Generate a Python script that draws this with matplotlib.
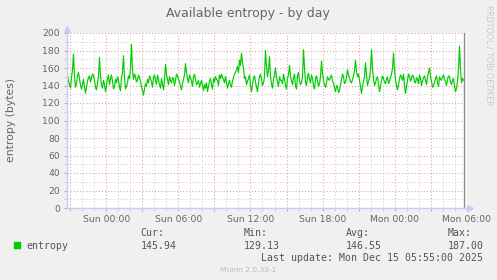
#!/usr/bin/env python3
"""
Munin style 'Available entropy - by day' graph
"""

import numpy as np
import matplotlib
matplotlib.use('Agg')
import matplotlib.pyplot as plt
from matplotlib.patches import Rectangle

# samples every 5 minutes, hours relative to Sun 00:00
start_hour = -3.25
step_hours = 1 / 12

entropy = [
    152, 145, 141, 137, 149, 158, 176, 150, 138, 142, 151, 155, 148, 140, 136, 141, 147, 139, 131, 138,
    145, 149, 151, 144, 149, 153, 152, 146, 138, 135, 143, 150, 172, 152, 140, 137, 146, 141, 133, 140,
    148, 152, 141, 147, 152, 145, 136, 139, 147, 143, 150, 146, 138, 134, 149, 155, 174, 150, 136, 139,
    143, 151, 148, 160, 187, 158, 147, 153, 150, 144, 146, 152, 149, 145, 138, 134, 129.13, 136, 142, 139,
    147, 143, 151, 148, 144, 138, 149, 152, 146, 141, 152, 147, 141, 137, 148, 142, 135, 146, 164, 153,
    147, 141, 150, 146, 143, 149, 148, 140, 146, 153, 151, 147, 144, 139, 135, 142, 147, 152, 165, 155,
    148, 143, 152, 149, 145, 139, 150, 153, 147, 141, 143, 146, 138, 142, 146, 140, 134, 141, 137, 143,
    133, 139, 145, 148, 140, 136, 148, 144, 150, 147, 146, 140, 152, 148, 153, 149, 147, 143, 150, 144,
    137, 142, 146, 141, 138, 145, 149, 153, 155, 158, 162, 155, 169, 163, 177, 166, 160, 148, 150, 141,
    145, 148, 152, 140, 133, 141, 148, 151, 144, 138, 133, 144, 150, 153, 147, 140, 143, 150, 180, 162,
    150, 158, 173, 150, 142, 137, 148, 152, 160, 149, 144, 139, 150, 146, 146, 142, 153, 147, 140, 136,
    148, 152, 163, 151, 145, 141, 149, 153, 139, 136, 151, 155, 146, 141, 143, 150, 181, 160, 144, 140,
    150, 154, 147, 143, 152, 148, 139, 136, 148, 151, 145, 139, 142, 150, 168, 154, 146, 141, 138, 143,
    150, 147, 146, 150, 152, 145, 143, 137, 133, 140, 138, 132, 134, 141, 147, 153, 150, 142, 144, 149,
    158, 152, 149, 144, 143, 147, 151, 157, 169, 156, 150, 153, 146, 139, 131, 138, 145, 150, 166, 152,
    140, 145, 149, 158, 181, 160, 147, 140, 143, 148, 150, 141, 133, 139, 146, 151, 148, 144, 142, 147,
    150, 142, 145, 149, 153, 160, 177, 158, 146, 140, 135, 141, 147, 152, 150, 146, 153, 140, 131, 139,
    146, 153, 151, 145, 148, 152, 150, 144, 143, 149, 147, 142, 152, 148, 140, 145, 149, 151, 146, 141,
    150, 155, 160, 150, 145, 138, 139, 144, 148, 151, 143, 139, 150, 147, 146, 150, 152, 147, 144, 140,
    147, 151, 150, 144, 141, 146, 148, 139, 133, 137, 145, 160, 185, 158, 143, 148, 145.94,
]

label_hours = [0, 6, 12, 18, 24, 30]
label_names = ['Sun 00:00', 'Sun 06:00', 'Sun 12:00', 'Sun 18:00',
               'Mon 00:00', 'Mon 06:00']

stat_names = ['Cur:', 'Min:', 'Avg:', 'Max:']
stat_values = ['145.94', '129.13', '146.55', '187.00']
last_update = 'Last update: Mon Dec 15 05:55:00 2025'

W, H = 497, 280
GREEN = '#00CC00'
FONT = '#666666'
AXIS = '#C8CCF4'
MGRID = '#E89C9C'
GRID = '#CDCDCD'


def fx(px):
    return px / W


def fy(py):
    return 1 - py / H


def main():
    fig = plt.figure(figsize=(W / 100, H / 100), dpi=100, facecolor='#F0F0F0')
    ax = fig.add_axes([fx(67), fy(208), 400 / W, 175 / H])
    ax.set_facecolor('white')

    times = start_hour + step_hours * np.arange(len(entropy))
    ax.plot(times, entropy, color=GREEN, lw=0.85, zorder=3)
    # dark marker at the end of the data
    ax.axvline(times[-1] + 0.05, color='#8A8A8A', lw=1.0, zorder=4)

    ax.set_xlim(-3.29, 30.04)
    ax.set_ylim(0, 200)

    # gridlines: red every 3h / 20 bytes, grey every hour / 10 bytes
    major_x = np.arange(-3, 31, 3)
    ax.set_xticks(major_x)
    ax.set_xticklabels([label_names[label_hours.index(h)] if h in label_hours else ''
                        for h in major_x])
    ax.set_xticks(np.arange(-3, 31, 1), minor=True)
    ax.set_yticks(np.arange(0, 201, 20))
    ax.set_yticks(np.arange(0, 201, 10), minor=True)

    dots = (0, (1, 2))
    ax.grid(which='minor', color=GRID, lw=0.75, ls=dots, zorder=1)
    ax.grid(which='major', color=MGRID, lw=0.75, ls=dots, zorder=2)

    ax.tick_params(which='major', length=2.5, width=0.8, color=MGRID,
                   labelcolor=FONT, labelsize=6.7, pad=2.5)
    ax.tick_params(which='minor', length=2, width=0.7, color=GRID)

    for side in ('top', 'right'):
        ax.spines[side].set_visible(False)
    for side in ('left', 'bottom'):
        ax.spines[side].set_color(AXIS)
        ax.spines[side].set_linewidth(1.0)
    ax.spines['left'].set_zorder(5)
    ax.spines['bottom'].set_zorder(5)

    # axis arrows
    ax.plot([0, 0], [1, 1 + 4 / 175], transform=ax.transAxes, color=AXIS,
            lw=1.0, clip_on=False)
    ax.plot([0], [1 + 4 / 175], transform=ax.transAxes, marker='^', ms=4.5,
            color=AXIS, clip_on=False)
    ax.plot([1, 1 + 3 / 400], [0, 0], transform=ax.transAxes, color=AXIS,
            lw=1.0, clip_on=False)
    ax.plot([1 + 3 / 400], [0], transform=ax.transAxes, marker='>', ms=4.5,
            color=AXIS, clip_on=False)

    fig.text(fx(248), fy(17.5), 'Available entropy - by day', color=FONT,
             fontsize=9, ha='center', va='baseline')
    fig.text(fx(11), fy(119.5), 'entropy (bytes)', color=FONT, fontsize=7.8,
             rotation=90, ha='center', va='center')
    fig.text(fx(488.5), fy(5), 'RRDTOOL / TOBI OETIKER', color='#CACACA',
             fontsize=5.7, rotation=270, ha='center', va='top')

    # legend block
    mono = 'DejaVu Sans Mono'
    fig.add_artist(Rectangle((fx(14), fy(248)), 6 / W, 6 / H, color=GREEN,
                             transform=fig.transFigure))
    fig.text(fx(26.5), fy(248.7), 'entropy', family=mono, fontsize=7.1,
             color='#555555', va='baseline')
    for col, name, val in zip([140.7, 243.7, 345.7, 447.7], stat_names, stat_values):
        fig.text(fx(col), fy(236.3), name, family=mono, fontsize=7.1,
                 color='#555555', va='baseline')
        fig.text(fx(col), fy(248.7), val, family=mono, fontsize=7.1,
                 color='#555555', va='baseline')
    fig.text(fx(483), fy(260.7), last_update, family=mono, fontsize=7.1,
             color='#555555', ha='right', va='baseline')
    fig.text(fx(248), fy(271.5), 'Munin 2.0.33-1', color='#BBBBBB',
             fontsize=5.4, ha='center', va='baseline')

    fig.savefig('out.png', dpi=100, facecolor=fig.get_facecolor())


if __name__ == "__main__":
    main()
